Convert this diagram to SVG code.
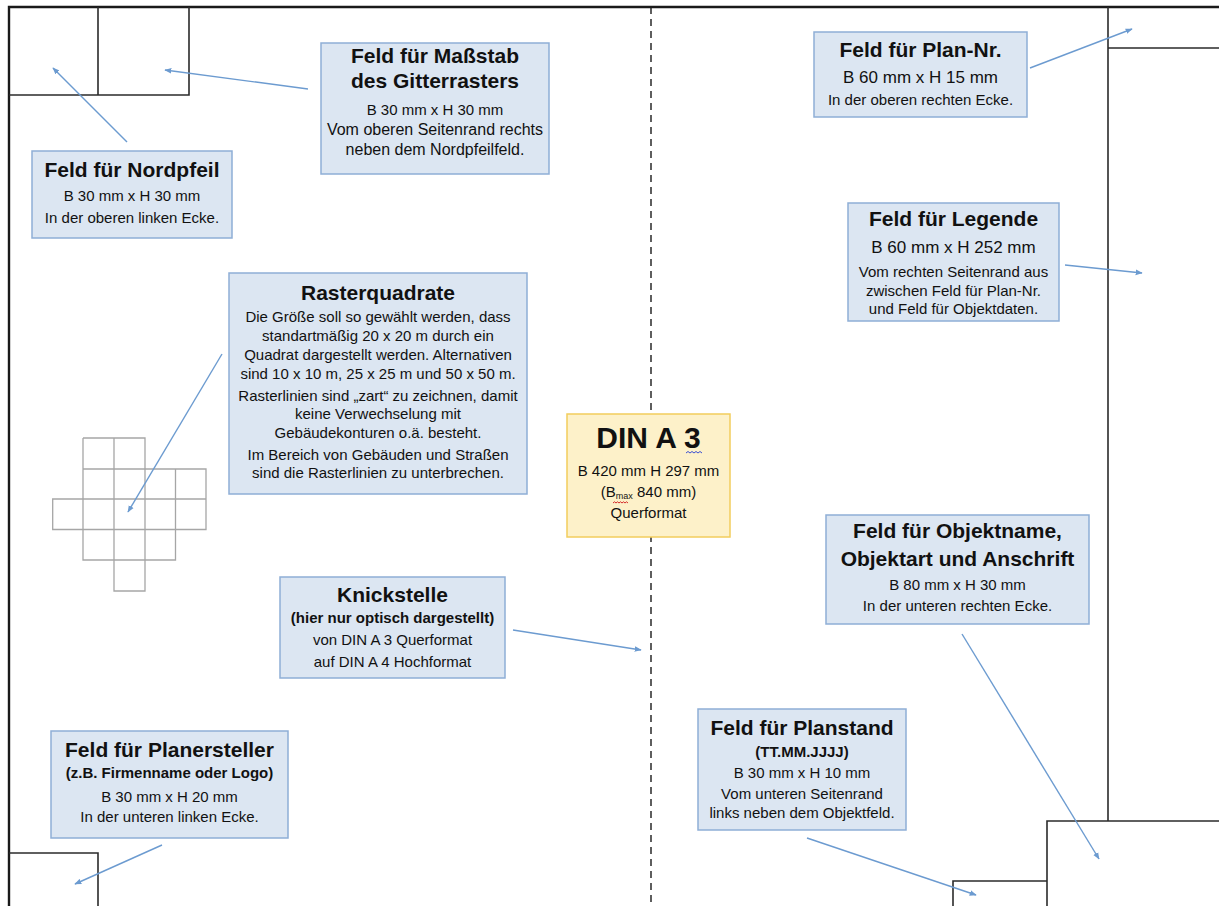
<svg xmlns="http://www.w3.org/2000/svg" width="1219" height="906" viewBox="0 0 1219 906">
<style>
.pg{fill:none;stroke:#2b2b2b;stroke-width:1.6}
.bd{fill:none;stroke:#1a1a1a;stroke-width:2.4}
.box{fill:#dce6f2;stroke:#8eaed6;stroke-width:1.5}
.yel{fill:#fdf1c9;stroke:#f2cd5c;stroke-width:1.5}
.grid{fill:none;stroke:#a6a6a6;stroke-width:1.3}
.ar{fill:none;stroke:#6c9bd0;stroke-width:1.4;marker-end:url(#ah)}
text{font-family:"Liberation Sans",Arial,sans-serif;fill:#111;text-anchor:middle}
.t{font-size:21px;font-weight:bold}
.s{font-size:15px;font-weight:bold}
.b{font-size:15px}
.m{font-size:16px}
.l{font-size:17px}
</style>
<defs>
<marker id="ah" viewBox="0 0 10 10" refX="9" refY="5" markerWidth="7" markerHeight="7" markerUnits="userSpaceOnUse" orient="auto">
<path d="M0,1 L10,5 L0,9 z" fill="#6c9bd0"/>
</marker>
</defs>
<rect width="1219" height="906" fill="#ffffff"/>
<g id="page">
<path class="bd" d="M9,906 V7 H1219"/>
<path class="pg" d="M9,95 H189 V7 M98,7 V95"/>
<path class="pg" d="M9,853 H98 V906"/>
<path class="pg" d="M1108,7 V821 M1108,48 H1219"/>
<path class="pg" d="M1047,906 V821 H1219 M953,906 V881 H1047"/>
<line x1="651" y1="7" x2="651" y2="906" stroke="#1a1a1a" stroke-width="1.4" stroke-dasharray="7,5"/>
</g>
<g id="grid">
<path class="grid" d="M83,438 H145 V591 H114 V438 M83,438 V560 H175.5 V469 H206 V529.5 H52.7 V499 H206 M83,469 H206 M83,529.5 V499 M145,469 V560 M175.5,469 V529.5 M114,560 V591"/>
</g>
<g id="connectors">
<line class="ar" x1="127" y1="142" x2="53" y2="68"/>
<line class="ar" x1="308" y1="89" x2="165" y2="70"/>
<line class="ar" x1="222" y1="354" x2="128" y2="512"/>
<line class="ar" x1="513" y1="630" x2="641" y2="650"/>
<line class="ar" x1="162" y1="845" x2="75" y2="884"/>
<line class="ar" x1="1030" y1="68" x2="1132" y2="29"/>
<line class="ar" x1="1065" y1="265" x2="1142" y2="273"/>
<line class="ar" x1="962" y1="634" x2="1099" y2="859"/>
<line class="ar" x1="807" y1="838" x2="976" y2="895"/>
</g>
<g id="n-massstab">
<rect class="box" x="321" y="43" width="228" height="131"/>
<text class="t" x="435" y="63">Feld für Maßstab</text>
<text class="t" x="435" y="88">des Gitterrasters</text>
<text class="b" x="435" y="115">B 30 mm x H 30 mm</text>
<text class="m" x="435" y="135">Vom oberen Seitenrand rechts</text>
<text class="m" x="435" y="155">neben dem Nordpfeilfeld.</text>
</g>
<g id="n-nordpfeil">
<rect class="box" x="32" y="151" width="200" height="87"/>
<text class="t" x="132" y="177">Feld für Nordpfeil</text>
<text class="b" x="132" y="201">B 30 mm x H 30 mm</text>
<text class="b" x="132" y="223">In der oberen linken Ecke.</text>
</g>
<g id="n-raster">
<rect class="box" x="229" y="273" width="298" height="221"/>
<text class="t" x="378" y="300">Rasterquadrate</text>
<text class="b" x="378" y="322">Die Größe soll so gewählt werden, dass</text>
<text class="b" x="378" y="341">standartmäßig 20 x 20 m durch ein</text>
<text class="b" x="378" y="360">Quadrat dargestellt werden. Alternativen</text>
<text class="b" x="378" y="379">sind 10 x 10 m, 25 x 25 m und 50 x 50 m.</text>
<text class="b" x="378" y="401">Rasterlinien sind „zart“ zu zeichnen, damit</text>
<text class="b" x="378" y="419">keine Verwechselung mit</text>
<text class="b" x="378" y="438">Gebäudekonturen o.ä. besteht.</text>
<text class="b" x="378" y="460">Im Bereich von Gebäuden und Straßen</text>
<text class="b" x="378" y="478">sind die Rasterlinien zu unterbrechen.</text>
</g>
<g id="n-dina3">
<rect class="yel" x="567" y="414" width="163" height="123"/>
<text x="648.5" y="448" style="font-size:30px;font-weight:bold">DIN A 3</text>
<path d="M686,453 l2,-1.5 l2,1.5 l2,-1.5 l2,1.5 l2,-1.5 l2,1.5 l2,-1.5 l2,1.5" fill="none" stroke="#3b4fd1" stroke-width="1"/>
<text class="b" x="648.5" y="476">B 420 mm H 297 mm</text>
<text class="b" x="648.5" y="497">(B<tspan style="font-size:9px" dy="2">max</tspan><tspan dy="-2"> 840 mm)</tspan></text>
<path d="M613,503 l1.5,-1.2 l1.5,1.2 l1.5,-1.2 l1.5,1.2 l1.5,-1.2 l1.5,1.2 l1.5,-1.2 l1.5,1.2 l1.5,-1.2 l1.5,1.2" fill="none" stroke="#d42a2a" stroke-width="1"/>
<text class="b" x="648.5" y="518">Querformat</text>
</g>
<g id="n-knick">
<rect class="box" x="280" y="577" width="225" height="101"/>
<text class="t" x="392.5" y="602">Knickstelle</text>
<text class="s" x="392.5" y="623">(hier nur optisch dargestellt)</text>
<text class="b" x="392.5" y="645">von DIN A 3 Querformat</text>
<text class="b" x="392.5" y="667">auf DIN A 4 Hochformat</text>
</g>
<g id="n-planersteller">
<rect class="box" x="51" y="731" width="237" height="107"/>
<text class="t" x="169.5" y="757">Feld für Planersteller</text>
<text class="s" x="169.5" y="778">(z.B. Firmenname oder Logo)</text>
<text class="b" x="169.5" y="802">B 30 mm x H 20 mm</text>
<text class="b" x="169.5" y="822">In der unteren linken Ecke.</text>
</g>
<g id="n-plannr">
<rect class="box" x="814" y="32" width="213" height="85"/>
<text class="t" x="920.5" y="57">Feld für Plan-Nr.</text>
<text class="l" x="920.5" y="83">B 60 mm x H 15 mm</text>
<text class="b" x="920.5" y="105">In der oberen rechten Ecke.</text>
</g>
<g id="n-legende">
<rect class="box" x="848" y="203" width="211" height="118"/>
<text class="t" x="953.5" y="226">Feld für Legende</text>
<text class="l" x="953.5" y="253">B 60 mm x H 252 mm</text>
<text class="b" x="953.5" y="277">Vom rechten Seitenrand aus</text>
<text class="b" x="953.5" y="296">zwischen Feld für Plan-Nr.</text>
<text class="b" x="953.5" y="314">und Feld für Objektdaten.</text>
</g>
<g id="n-objekt">
<rect class="box" x="826" y="515" width="263" height="109"/>
<text class="t" x="957.5" y="538">Feld für Objektname,</text>
<text class="t" x="957.5" y="566">Objektart und Anschrift</text>
<text class="b" x="957.5" y="590">B 80 mm x H 30 mm</text>
<text class="b" x="957.5" y="611">In der unteren rechten Ecke.</text>
</g>
<g id="n-planstand">
<rect class="box" x="698" y="709" width="208" height="121"/>
<text class="t" x="802" y="735">Feld für Planstand</text>
<text class="s" x="802" y="757">(TT.MM.JJJJ)</text>
<text class="b" x="802" y="778">B 30 mm x H 10 mm</text>
<text class="b" x="802" y="799">Vom unteren Seitenrand</text>
<text class="b" x="802" y="818">links neben dem Objektfeld.</text>
</g>
</svg>
